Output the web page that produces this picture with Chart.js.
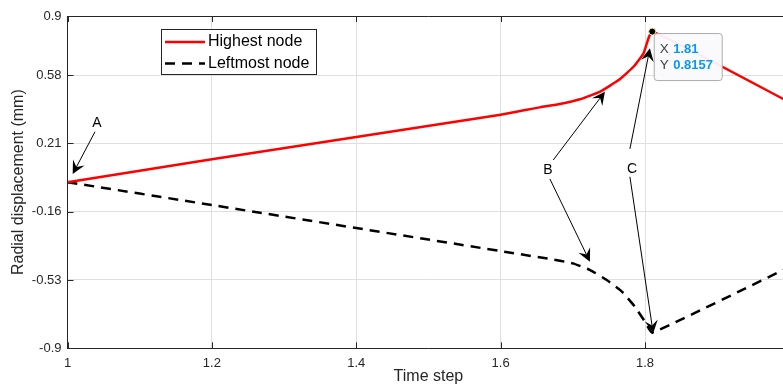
<!DOCTYPE html>
<html><head><meta charset="utf-8">
<script src="https://cdn.jsdelivr.net/npm/chart.js@4"></script>
<style>html,body{margin:0;padding:0;overflow:hidden;background:#fff}#wrap{width:800px;height:385px}</style>
</head><body><div id="wrap"><canvas id="c" width="800" height="385"></canvas></div>
<script>
// ---- data ----
const xTicks = [1, 1.2, 1.4, 1.6, 1.8, 2];
const yTicks = [0.9, 0.58, 0.21, -0.16, -0.53, -0.9];
const seriesNames = ['Highest node', 'Leftmost node'];
const highestX = [1, 1.2, 1.6, 1.654, 1.682, 1.710, 1.738, 1.765, 1.784, 1.798, 1.81, 2.0];
const highestY = [0, 0.124, 0.365, 0.405, 0.423, 0.449, 0.490, 0.557, 0.625, 0.698, 0.8157, 0.433];
const leftmostX = [1, 1.2, 1.668, 1.700, 1.724, 1.747, 1.768, 1.786, 1.800, 1.81, 2.0];
const leftmostY = [0, -0.124, -0.416, -0.440, -0.476, -0.530, -0.593, -0.675, -0.756, -0.8157, -0.459];
const tipSeries = 0, tipIndex = 10;
const axisTitleX = 'Time step';
const axisTitleY = 'Radial displacement (mm)';
// annotation labels and arrows, in data units
const noteLabels = ['A', 'B', 'C'];
const noteAt = [[1.0409, 0.320], [1.6655, 0.066], [1.7819, 0.071]];
const noteArrows = [
  [[1.0381, 0.273, 1.0072, 0.044]],
  [[1.6729, 0.120, 1.7445, 0.490], [1.6683, 0.017, 1.7237, -0.431]],
  [[1.7791, 0.180, 1.8068, 0.725], [1.7791, 0.029, 1.8114, -0.819]]
];

const FONT = '"Liberation Sans", Arial, Helvetica, sans-serif';
const AXC = '#262626';

function arrow(ctx, x0, y0, x1, y1) {
  const a = Math.atan2(y1 - y0, x1 - x0);
  const ux = Math.cos(a), uy = Math.sin(a), nx = -uy, ny = ux;
  const L = 13, W = 6.5, N = 8;
  ctx.beginPath(); ctx.moveTo(x0, y0); ctx.lineTo(x1 - N * ux, y1 - N * uy);
  ctx.lineWidth = 1; ctx.strokeStyle = '#000'; ctx.stroke();
  ctx.beginPath();
  ctx.moveTo(x1, y1);
  ctx.lineTo(x1 - L * ux + W * nx, y1 - L * uy + W * ny);
  ctx.lineTo(x1 - N * ux, y1 - N * uy);
  ctx.lineTo(x1 - L * ux - W * nx, y1 - L * uy - W * ny);
  ctx.closePath(); ctx.fillStyle = '#000'; ctx.fill();
}

const decor = {
  id: 'decor',
  afterDatasetsDraw(chart) {
    const {ctx, chartArea: ca, scales: {x, y}} = chart;
    ctx.save();
    // frame top + inward ticks
    ctx.strokeStyle = AXC; ctx.lineWidth = 1;
    ctx.beginPath();
    ctx.moveTo(ca.left, Math.round(ca.top) + 0.5); ctx.lineTo(ca.right, Math.round(ca.top) + 0.5);
    ctx.moveTo(Math.round(ca.right) + 0.5, ca.top); ctx.lineTo(Math.round(ca.right) + 0.5, ca.bottom);
    xTicks.forEach(v => {
      const px = Math.round(x.getPixelForValue(v)) + 0.5;
      ctx.moveTo(px, ca.bottom); ctx.lineTo(px, ca.bottom - 6);
      ctx.moveTo(px, ca.top); ctx.lineTo(px, ca.top + 6);
    });
    yTicks.forEach(v => {
      const py = Math.round(y.getPixelForValue(v)) + 0.5;
      ctx.moveTo(ca.left, py); ctx.lineTo(ca.left + 6, py);
      ctx.moveTo(ca.right, py); ctx.lineTo(ca.right - 6, py);
    });
    ctx.stroke();

    // annotations
    ctx.font = '14px ' + FONT; ctx.fillStyle = '#000';
    ctx.textAlign = 'center'; ctx.textBaseline = 'middle';
    noteLabels.forEach((t, i) => {
      ctx.fillStyle = '#000';
      ctx.fillText(t, x.getPixelForValue(noteAt[i][0]), y.getPixelForValue(noteAt[i][1]));
      noteArrows[i].forEach(a => arrow(ctx, x.getPixelForValue(a[0]), y.getPixelForValue(a[1]),
        x.getPixelForValue(a[2]), y.getPixelForValue(a[3])));
    });

    // legend
    const lx = 161, ly = 29, lw = 155, lh = 45;
    ctx.fillStyle = '#fff'; ctx.fillRect(lx, ly, lw, lh);
    ctx.strokeStyle = AXC; ctx.lineWidth = 1;
    ctx.strokeRect(lx + 0.5, ly + 0.5, lw, lh);
    ctx.font = '16px ' + FONT; ctx.textAlign = 'left'; ctx.textBaseline = 'middle';
    chart.data.datasets.forEach((ds, i) => {
      const yy = ly + 13 + i * 21.5;
      ctx.save();
      ctx.strokeStyle = ds.borderColor; ctx.lineWidth = ds.borderWidth;
      ctx.setLineDash(ds.borderDash || []);
      ctx.beginPath(); ctx.moveTo(lx + 4, yy); ctx.lineTo(lx + 44, yy); ctx.stroke();
      ctx.restore();
      ctx.fillStyle = '#000';
      ctx.fillText(ds.label, lx + 47, yy);
    });

    // data tip
    const pt = chart.getDatasetMeta(tipSeries).data[tipIndex];
    const bx = pt.x + 1.5, by = pt.y + 1.5, bw = 68, bh = 47;
    ctx.beginPath();
    ctx.roundRect(bx + 0.5, by + 0.5, bw, bh, 3);
    ctx.fillStyle = 'rgba(250,250,253,0.95)'; ctx.fill();
    ctx.strokeStyle = '#ababab'; ctx.lineWidth = 1; ctx.stroke();
    const rows = [['X', highestX[tipIndex]], ['Y', highestY[tipIndex]]];
    rows.forEach((r, i) => {
      const ty = by + 16 + i * 16.5;
      ctx.font = '13.5px ' + FONT; ctx.fillStyle = '#404040';
      ctx.fillText(r[0], bx + 6, ty);
      ctx.font = 'bold 13px ' + FONT; ctx.fillStyle = '#0a96f5';
      ctx.fillText(String(r[1]), bx + 19.5, ty);
    });
    ctx.beginPath(); ctx.arc(pt.x, pt.y, 3.5, 0, Math.PI * 2);
    ctx.fillStyle = '#000'; ctx.fill();
    ctx.strokeStyle = '#f5eaa0'; ctx.lineWidth = 1; ctx.stroke();
    ctx.restore();
  }
};

new Chart(document.getElementById('c'), {
  type: 'line',
  data: {
    datasets: [
      { label: seriesNames[0], data: highestX.map((v, i) => ({x: v, y: highestY[i]})),
        borderColor: '#ff0000', borderWidth: 2.5, pointRadius: 0, tension: 0.12, borderJoinStyle: 'round', fill: false },
      { label: seriesNames[1], data: leftmostX.map((v, i) => ({x: v, y: leftmostY[i]})),
        borderColor: '#000000', borderWidth: 2.5, borderDash: [10, 7], pointRadius: 0, tension: 0.12, borderJoinStyle: 'round', fill: false }
    ]
  },
  options: {
    responsive: false, animation: false, events: [],
    layout: { padding: { top: 16, right: 10.5, left: 0, bottom: 0 } },
    plugins: { legend: { display: false }, tooltip: { enabled: false } },
    scales: {
      x: {
        type: 'linear', min: 1, max: 2,
        afterBuildTicks: s => { s.ticks = xTicks.map(v => ({value: v})); },
        afterFit: s => { s.height = 36.7; },
        ticks: { color: AXC, font: { family: FONT, size: 13 }, padding: 7, maxRotation: 0,
          callback: v => String(v) },
        grid: { color: '#dfdfdf', drawTicks: false, lineWidth: 1 },
        border: { display: true, color: AXC, width: 1 },
        title: { display: true, text: axisTitleX, color: AXC, font: { family: FONT, size: 16 }, padding: { top: 0, bottom: -1 } }
      },
      y: {
        type: 'linear', min: -0.9, max: 0.9,
        afterBuildTicks: s => { s.ticks = yTicks.map(v => ({value: v})); },
        afterFit: s => { s.width = 67.5; },
        ticks: { color: AXC, font: { family: FONT, size: 13 }, padding: 6,
          callback: v => String(v) },
        grid: { color: '#dfdfdf', drawTicks: false, lineWidth: 1 },
        border: { display: true, color: AXC, width: 1 },
        title: { display: true, text: axisTitleY, color: AXC, font: { family: FONT, size: 16 }, padding: { top: 9, bottom: 0 } }
      }
    }
  },
  plugins: [decor]
});
</script></body></html>
